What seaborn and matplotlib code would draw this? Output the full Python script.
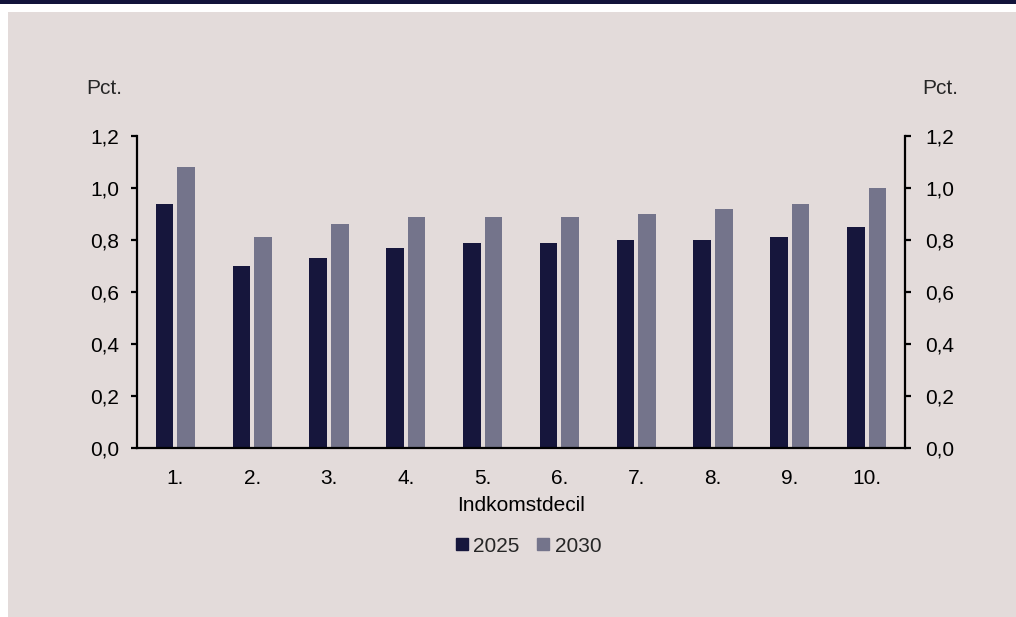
import matplotlib
matplotlib.use("Agg")
import matplotlib.pyplot as plt
import seaborn as sns
import pandas as pd
from matplotlib.lines import Line2D
from matplotlib.patches import Rectangle

categories = ["1.", "2.", "3.", "4.", "5.", "6.", "7.", "8.", "9.", "10."]
values_2025 = [0.94, 0.70, 0.73, 0.77, 0.79, 0.79, 0.80, 0.80, 0.81, 0.85]
values_2030 = [1.08, 0.81, 0.86, 0.89, 0.89, 0.89, 0.90, 0.92, 0.94, 1.00]
series = ["2025", "2030"]
yticks = [0.0, 0.2, 0.4, 0.6, 0.8, 1.0, 1.2]

c2025 = "#16163c"
c2030 = "#74748b"
bg = "#e3dbda"
navy = "#12133a"
FS = 15

df = pd.DataFrame({
    "decil": categories * 2,
    "value": values_2025 + values_2030,
    "year": [series[0]] * len(categories) + [series[1]] * len(categories),
})

sns.set_theme(style="white")
plt.rcParams["font.family"] = ["Liberation Sans", "DejaVu Sans"]

fig = plt.figure(figsize=(10.16, 6.17), dpi=100)
fig.patch.set_facecolor("white")
fig.patches.append(Rectangle((8 / 1016, 0), 1 - 8 / 1016, 1 - 12 / 617,
                             transform=fig.transFigure, facecolor=bg,
                             edgecolor="none", zorder=-10))
fig.patches.append(Rectangle((0, 1 - 4 / 617), 1, 4 / 617,
                             transform=fig.transFigure, facecolor=navy,
                             edgecolor="none", zorder=-10))

ax = fig.add_axes([137 / 1016, 1 - 448 / 617, (905 - 137) / 1016, (448 - 136) / 617])
ax.set_facecolor("none")

sns.barplot(data=df, x="decil", y="value", hue="year", order=categories,
            hue_order=series, palette=[c2025, c2030], width=0.56, gap=0.18,
            saturation=1, linewidth=0, ax=ax, legend=False)

ax.set_xlim(-0.5, len(categories) - 0.5)
ax.set_ylim(0, 1.2)
ax.set_yticks(yticks)
fmt = [f"{v:.1f}".replace(".", ",") for v in yticks]
ax.set_yticklabels(fmt)
ax.set_ylabel("")
ax.set_xlabel("Indkomstdecil", fontsize=FS, color="black", labelpad=6)
for s in ["top", "right"]:
    ax.spines[s].set_visible(False)
for s in ["left", "bottom"]:
    ax.spines[s].set_color("black")
    ax.spines[s].set_linewidth(1.6)
ax.tick_params(axis="y", which="both", left=True, length=4.5, width=1.6,
               color="black", labelsize=FS, labelcolor="black", pad=8.5)
ax.tick_params(axis="x", bottom=False, labelsize=FS, labelcolor="black", pad=9)

ax2 = ax.twinx()
ax2.set_ylim(0, 1.2)
ax2.set_yticks(yticks)
ax2.set_yticklabels(fmt)
for s in ["top", "left", "bottom"]:
    ax2.spines[s].set_visible(False)
ax2.spines["right"].set_color("black")
ax2.spines["right"].set_linewidth(1.6)
ax2.tick_params(axis="y", right=True, length=4.5, width=1.6, color="black",
                labelsize=FS, labelcolor="black", pad=10)
ax2.set_facecolor("none")

fig.text(104 / 1016, 1 - 88 / 617, "Pct.", fontsize=FS, ha="center", va="center")
fig.text(940 / 1016, 1 - 88 / 617, "Pct.", fontsize=FS, ha="center", va="center")

handles = [Line2D([0], [0], marker="s", linestyle="none", markersize=8.5,
                  markerfacecolor=c, markeredgecolor=c) for c in [c2025, c2030]]
fig.legend(handles, series, loc="center", bbox_to_anchor=(528 / 1016, 1 - 546 / 617),
           ncol=2, frameon=False, fontsize=FS, handletextpad=0.2,
           columnspacing=0.8, handlelength=0.7)

fig.savefig("out.png", dpi=100, facecolor=fig.get_facecolor())
